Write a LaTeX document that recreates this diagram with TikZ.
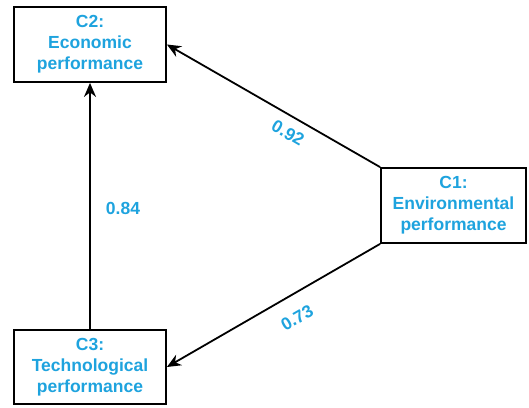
\documentclass[tikz,border=0pt]{standalone}
\usepackage{fontspec}
\setmainfont{Liberation Sans}
\usetikzlibrary{arrows.meta}
\definecolor{lblue}{RGB}{30,163,222}
\begin{document}
\begin{tikzpicture}[x=1pt,y=-1pt,
  crit/.style={draw=black,line width=1.8pt,fill=white,minimum width=152pt,minimum height=75pt,
    align=center,inner sep=0pt,text=lblue,font=\fontsize{17.5}{21}\selectfont\bfseries},
  conn/.style={draw=black,line width=1.8pt,-{Stealth[length=14pt,width=12pt]}},
  wlbl/.style={text=lblue,font=\fontsize{17.5}{20}\selectfont\bfseries,inner sep=0pt}]
\useasboundingbox (0,0) rectangle (529,407);
\node[crit] (c2) at (90,44.5) {C2:\\Economic\\performance};
\node[crit,minimum height=74pt] (c3) at (90,367) {C3:\\Technological\\performance};
\node[crit,minimum width=145pt] (c1) at (453.5,205.5) {C1:\\Environmental\\performance};
\draw[conn] (c1.north west) -- (c2.east);
\draw[conn] (c1.south west) -- (c3.east);
\draw[conn] (c3.north) -- (c2.south);
\node[wlbl,rotate=-30] (l92) at (288,133) {0.92};
\node[wlbl,rotate=30] (l73) at (297,318) {0.73};
\node[wlbl] (l84) at (123,208) {0.84};
\end{tikzpicture}
\end{document}
